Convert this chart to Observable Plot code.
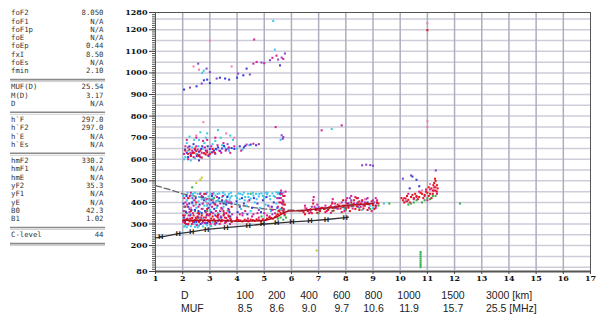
<!DOCTYPE html>
<html><head><meta charset="utf-8">
<script src="https://cdn.jsdelivr.net/npm/d3@7"></script>
<script src="https://cdn.jsdelivr.net/npm/@observablehq/plot@0.6"></script>
<style>
body{margin:0;background:#fff;}
#wrap{position:relative;width:602px;height:324px;overflow:hidden;background:#fff;}
#wrap > *{position:absolute;left:0;top:0;}
</style></head>
<body><div id="wrap"></div>
<script>
// ---------- data ----------
const paramNames = [
  ["foF2","foF1","foF1p","foE","foEp","fxI","foEs","fmin"],
  ["MUF(D)","M(D)","D"],
  ["h`F","h`F2","h`E","h`Es"],
  ["hmF2","hmF1","hmE","yF2","yF1","yE","B0","B1"],
  ["C-level"]
];
const paramValues = [
  ["8.050","N/A","N/A","N/A","0.44","8.50","N/A","2.10"],
  ["25.54","3.17","N/A"],
  ["297.0","297.0","N/A","N/A"],
  ["330.2","N/A","N/A","35.3","N/A","N/A","42.3","1.02"],
  ["44"]
];
const distLabels = ["100","200","400","600","800","1000","1500","3000 [km]"];
const mufLabels  = ["8.5","8.6","9.0","9.7","10.6","11.9","15.7","25.5 [MHz]"];

const xTicks = d3.range(1, 18);
const yLabelTicks = [80,200,300,400,500,600,700,800,900,1000,1100,1200,1280];

const profileLine = [[1.0,236],[1.19,239],[1.84,255],[2.33,264],[2.88,275],[3.59,283],[4.41,293],[4.93,299],[5.46,304],[6.02,310],[6.68,315],[7.29,321],[7.98,330],[8.1,332]];
const profileMarks = [[1.19,239],[1.84,255],[2.33,264],[2.88,275],[3.59,283],[4.41,293],[4.93,299],[5.46,304],[6.02,310],[6.68,315],[7.29,321],[7.98,330]];
const dashedCurve = [[1.0,478],[1.5,460],[2.0,440],[2.5,428],[3.0,415],[3.5,402],[4.0,390],[4.5,378],[5.0,370],[5.5,366],[6.0,364],[6.5,363],[7.0,367],[7.5,372],[8.0,378],[8.3,382]];
const traceF2 = [[2.0,318],[2.5,317],[3.0,316],[3.5,316],[4.0,313],[4.5,314],[5.0,316],[5.3,325],[5.5,335],[5.7,352],[5.9,360],[6.3,362],[6.9,370],[7.5,378],[8.0,386],[8.5,390],[9.0,395]];

const cyanPts = [
[2.05,288],[2.15,285],[2.3,290],[2.45,287],[2.6,292],[2.75,289],[2.9,294],[3.05,291],[2.2,296],[2.5,298],[3.2,296],[2.1,292],[2.4,300],[2.85,300],[2.55,285],
[2.25,420],[2.35,432],[2.4,410],[2.55,440],[2.6,425],[2.7,415],[2.8,438],[2.85,405],[2.95,428],[3.05,440],[3.1,418],[3.2,432],[3.3,410],[3.35,442],[3.45,425],[3.55,436],[3.6,412],[3.7,440],[3.75,422],[3.95,430],[4.05,442],[4.1,415],[4.2,436],[4.3,425],[4.4,440],[4.5,418],[4.6,432],[4.7,440],[4.8,428],[4.9,442],[5.0,420],[5.1,438],[5.2,430],[5.3,442],[5.4,425],[5.5,440],[5.6,435],[5.7,445],
[2.45,445],[2.9,446],[3.5,447],[4.25,446],[5.05,446],[5.45,447],[2.15,410],[3.8,430],
[2.02,430],[2.08,380],[2.18,445],[2.28,375],[2.38,440],[2.48,390],[2.58,405],[2.66,445],[2.72,395],[2.84,420],[2.9,385],[2.98,410],[3.04,395],[3.14,445],[3.22,405],[3.28,440],[3.4,400],[3.48,445],[3.54,405],[3.66,430],[3.72,410],[3.78,445],[4.0,420],[4.12,440],[4.28,410],[4.42,425],[4.58,445],[4.72,415],[4.82,440],[4.95,430],[5.12,445],[5.22,415],[5.35,430],[5.52,445],[5.62,420],
[2.1,360],[2.3,345],[2.5,375],[2.65,355],[2.8,385],[3.0,365],[3.15,395],[3.3,350],[3.5,380],[3.65,360],[4.0,395],[4.15,370],[4.35,385],[4.5,360],[4.65,400],[4.85,375],[5.05,390],[5.25,360],[5.45,395],[5.6,370],
[2.2,318],[2.4,305],[2.7,325],[3.1,308],[3.4,330],[3.8,312],[2.35,395],[2.75,370],[3.25,375],[3.6,395],
[2.1,610],[2.2,640],[2.35,655],[2.5,625],[2.6,690],[2.75,650],[2.85,700],[3.0,630],[3.1,670],[3.25,645],[3.4,700],[3.55,655],[3.7,640],[3.85,690],[4.0,650],[4.2,645],[4.45,665],[2.3,595],[2.9,720],[3.3,735],[2.05,600],[2.45,605],
[2.15,675],[2.42,690],[2.58,660],[2.8,675],[3.2,685],[3.45,665],[3.75,710],[2.25,705],[2.65,725],
[5.33,1241],[5.39,1108],[2.77,1010],[2.72,1000],[7.48,740],[5.6,690],[8.2,390],[8.6,365],[9.0,375],[9.4,395],[8.9,385],[7.95,370]
];
const bluePts = [
[2.05,330],[2.12,355],[2.2,380],[2.28,340],[2.35,400],[2.45,365],[2.55,330],[2.62,390],[2.7,350],[2.78,410],[2.88,340],[2.95,375],[3.05,355],[3.12,400],[3.2,340],[3.28,385],[3.38,360],[3.45,410],[3.52,345],[3.6,390],[3.68,370],[3.75,335],[3.98,405],[4.1,380],[4.25,395],[4.45,410],[4.55,375],[4.75,395],[4.95,410],[5.15,385],[5.35,400],[5.55,420],[5.65,395],[2.15,300],[2.5,310],[2.9,305],[3.3,315],
[2.03,395],[2.09,310],[2.14,430],[2.24,395],[2.32,365],[2.42,310],[2.48,420],[2.58,360],[2.66,300],[2.74,425],[2.82,360],[2.92,395],[3.0,310],[3.08,430],[3.16,370],[3.24,305],[3.34,420],[3.42,330],[3.5,395],[3.58,310],[3.64,425],[3.72,355],[3.8,395],[4.02,355],[4.18,420],[4.38,345],[4.62,420],[4.88,355],[5.08,425],[5.28,380],[5.48,375],[5.6,445],[5.72,350],
[2.15,630],[2.3,620],[2.45,645],[2.6,635],[2.72,660],[2.85,640],[3.0,648],[3.15,640],[3.3,655],[3.45,650],[3.6,645],[3.8,652],[4.1,660],[4.3,662],[4.5,668],[4.7,665],[2.4,670],[2.95,615],
[2.08,645],[2.25,660],[2.38,632],[2.52,615],[2.68,648],[2.8,628],[2.92,660],[3.08,632],[3.22,648],[3.38,638],[3.52,662],[3.68,650],[3.9,648],[4.25,655],[2.2,610],[2.6,595],
[2.05,923],[2.51,938],[2.78,966],[3.0,953],[3.37,978],[3.56,974],[3.71,969],[4.0,978],[4.23,989],[4.35,1020],[5.58,1035],[2.9,969],
[6.9,372],[7.6,380],[8.1,395],[8.5,390],[8.8,400],[9.1,385],[10.45,520],[10.6,505],[10.35,465],[10.7,475]
];
const purplePts = [
[2.27,932],[2.7,951],[3.25,974],[4.04,997],[4.47,993],[4.9,1048],[5.21,1059],[5.51,1062],[5.64,1071],[5.76,1090],[2.88,1020],[3.0,1004],[2.57,1043],
[5.64,711],[5.7,703],[5.68,695],[8.6,572],[8.75,575],[8.9,573],[9.0,570],[10.1,510],[10.4,525],[11.31,548],
[2.25,370],[2.6,345],[3.0,390],[3.4,335],[3.7,400],[4.2,350],[4.8,365],[5.3,345],[5.7,405],
[2.12,320],[2.36,420],[2.56,315],[2.86,440],[3.18,395],[3.46,370],[3.66,315],[2.72,305],
[6.6,365],[6.75,380],[7.0,378],[7.2,370],[7.65,375],[8.0,400],[8.2,410],[8.4,395],[8.6,405],[8.8,392],[9.0,410],[9.15,398],
[7.85,400],[8.15,420],[8.45,380],[8.75,415],[9.05,400],
[2.2,655],[2.65,610],[3.2,625],[3.65,670]
];
const magentaPts = [
[4.6,1043],[4.72,1051],[5.0,1045],[5.3,1070],[5.45,1080],[5.7,1065],[4.63,1155],[5.42,749],[7.11,734],[7.85,757],
[2.02,310],[2.08,340],[2.1,400],[2.18,325],[2.25,355],[2.32,315],[2.4,385],[2.48,330],[2.55,350],[2.62,312],[2.7,370],[2.78,330],[2.85,355],[2.92,318],[3.0,345],[3.08,380],[3.15,322],[3.22,360],[3.3,330],[3.38,395],[3.45,318],[3.52,350],[3.6,328],[3.7,365],[3.78,320],[4.0,330],[4.2,340],[4.4,325],[4.6,345],[4.8,330],[5.0,350],[5.2,335],[5.4,350],[5.5,380],[5.55,400],[5.6,420],[5.65,440],[5.7,390],[5.75,430],[5.62,455],[2.3,445],[2.7,430],[3.1,440],
[2.04,360],[2.06,420],[2.12,300],[2.16,390],[2.22,340],[2.26,430],[2.34,300],[2.38,350],[2.44,410],[2.52,295],[2.58,380],[2.64,440],[2.68,330],[2.74,395],[2.82,305],[2.88,415],[2.96,340],[3.02,300],[3.06,410],[3.12,350],[3.18,300],[3.26,425],[3.32,345],[3.36,300],[3.42,375],[3.48,430],[3.56,305],[3.62,405],[3.68,340],[3.74,300],[3.78,400],[3.82,345],[4.1,345],[4.3,360],[4.55,335],[4.75,350],[5.1,340],[5.3,365],[5.48,420],[5.52,360],[5.58,440],[5.68,410],[5.72,370],[5.78,450],
[2.05,625],[2.2,600],[2.35,640],[2.5,660],[2.62,620],[2.75,685],[2.9,640],[3.05,660],[3.2,700],[3.35,640],[3.5,675],[3.7,655],[3.9,660],[4.15,640],[4.35,668],[4.6,672],[4.8,670],
[2.1,660],[2.28,630],[2.4,610],[2.55,645],[2.7,630],[2.82,655],[2.95,620],[3.12,635],[3.28,665],[3.42,630],[3.58,640],[3.75,630],[2.15,690],[2.5,700],[2.9,690],
[6.4,360],[6.55,372],[6.7,355],[6.85,380],[6.8,410],[6.82,425],[7.0,365],[7.15,375],[7.3,360],[7.45,385],[7.5,400],[7.52,415],[7.7,370],[7.9,385],[8.0,410],[8.1,375],[8.3,395],[8.45,420],[8.55,380],[8.7,400],[8.85,375],[9.0,395],[9.1,420],[8.2,430],
[6.5,385],[6.65,350],[6.95,390],[7.25,385],[7.45,352],[7.6,395],[7.75,385],[7.95,360],[8.05,420],[8.25,372],[8.35,425],[8.5,405],[8.65,385],[8.8,420],[8.95,360],[9.1,375],[9.15,410],
[10.15,420],[10.3,440],[10.5,415],[10.7,450],[10.9,430],[11.1,460],[11.25,470],[11.35,440],[11.0,410],[10.25,405],[10.6,425],[10.95,460],[11.25,455]
];
const redPts = [
[2.05,318],[2.15,322],[2.25,312],[2.35,328],[2.45,318],[2.55,335],[2.65,320],[2.75,315],[2.85,330],[2.95,312],[3.05,325],[3.15,318],[3.25,335],[3.35,320],[3.45,315],[3.55,330],[3.65,318],[3.75,325],[3.95,315],[4.05,318],[4.2,312],[4.35,316],[4.5,320],[4.65,315],[4.8,318],[4.95,322],[5.1,325],[5.25,328],[5.4,332],[5.5,345],[5.6,352],[5.7,360],[5.75,345],
[2.02,340],[2.08,305],[2.2,300],[2.28,325],[2.38,310],[2.5,325],[2.6,310],[2.7,340],[2.8,318],[2.9,345],[3.0,312],[3.1,335],[3.2,310],[3.3,340],[3.4,312],[3.5,340],[3.6,312],[3.7,335],[3.8,310],[4.0,322],[4.12,316],[4.28,320],[4.42,312],[4.58,318],[4.72,322],[4.88,315],[5.05,318],[5.18,330],[5.32,325],[5.45,340],[5.55,360],[5.65,375],[5.7,400],[5.76,390],
[2.1,380],[2.3,360],[2.5,400],[2.6,350],[2.9,370],[3.2,390],[3.5,360],[3.8,380],[2.4,340],[3.0,345],[3.6,350],[2.2,420],[2.8,440],[5.6,400],[5.7,430],
[2.1,640],[2.2,625],[2.3,615],[2.42,630],[2.55,622],[2.65,640],[2.78,628],[2.9,632],[3.0,625],[2.45,650],[2.7,608],[3.1,648],[2.35,628],[2.5,638],[2.6,615],[2.85,622],[3.18,630],[2.25,645],
[6.45,355],[6.6,360],[6.75,350],[6.9,365],[7.05,360],[7.2,370],[7.35,365],[7.5,375],[7.65,380],[7.8,372],[7.95,385],[8.1,380],[8.25,390],[8.4,382],[8.55,395],[8.7,385],[8.85,392],[9.0,388],[9.15,400],[7.5,395],[6.8,395],[8.3,410],
[6.5,345],[6.7,368],[6.95,352],[7.1,375],[7.25,355],[7.4,378],[7.55,362],[7.7,390],[7.85,355],[8.0,372],[8.05,395],[8.15,360],[8.2,400],[8.35,370],[8.45,400],[8.5,365],[8.6,410],[8.65,372],[8.75,395],[8.8,365],[8.95,405],[9.05,370],[9.1,385],[9.2,395],[7.9,410],[8.4,420],
[10.1,410],[10.2,418],[10.3,412],[10.4,425],[10.5,420],[10.6,430],[10.7,425],[10.8,440],[10.9,435],[11.0,445],[11.1,440],[11.2,455],[11.3,470],[11.35,450],[11.25,490],[11.3,500],[10.25,430],[10.55,440],[11.15,420],[11.05,470],[11.35,480],
[10.05,420],[10.15,400],[10.35,400],[10.45,435],[10.65,415],[10.75,445],[10.85,420],[10.95,450],[11.05,430],[11.15,465],[11.2,440],[11.3,455],[11.38,465],[11.28,510],[11.22,480],
[11.0,1198]
];
const pinkPts = [
[11.0,1230],[11.0,776],[11.0,750],[2.76,772],[2.4,1030],[2.6,1015],[3.8,1030],[3.9,700],[3.6,720],[2.5,710],[3.0,1150],
[2.3,375],[2.9,395],[3.4,365],[4.4,405],[5.2,380],[6.5,375],[7.8,395],[8.7,415],[10.8,455],[11.1,485]
];
const greenPts = [
[2.15,350],[2.35,470],[2.6,330],[2.9,360],[3.3,345],[3.7,335],[4.5,440],[4.9,335],[5.6,330],[5.7,320],[5.8,330],[6.3,360],[7.0,350],[7.5,360],[8.0,365],[8.5,375],[8.9,370],[9.2,385],[9.6,395],[10.2,405],[10.4,395],[10.6,410],[10.8,400],[11.0,420],[11.2,430],[12.2,395],
[2.05,380],[2.45,360],[2.75,310],[3.15,420],[3.55,395],[5.5,325],[5.75,340],[10.3,390],[10.5,400],[10.9,410],[11.1,415],[11.3,430],
[10.75,100],[10.75,110],[10.75,120],[10.75,130],[10.75,140],[10.75,150],[10.75,160],[10.75,170]
];
const yellowPts = [[2.65,505],[2.7,515],[2.5,490],[6.93,177]];

// ---------- chart ----------
const pt = (arr, color) => Plot.dot(arr, {x: d => d[0], y: d => d[1], r: 1.15, symbol: "square", fill: color, stroke: "none"});
const serif = "'DejaVu Serif', serif";

const chart = Plot.plot({
  width: 602, height: 324,
  marginLeft: 155, marginRight: 12, marginTop: 12, marginBottom: 53,
  x: {domain: [1, 17]},
  y: {domain: [80, 1280]},
  style: {background: "transparent", overflow: "visible"},
  marks: [
    Plot.gridY(d3.range(100, 1281, 50), {stroke: "#cdcdda", strokeOpacity: 1, strokeWidth: 1.5}),
    Plot.gridX(d3.range(2, 17), {stroke: "#aeaec0", strokeOpacity: 1, strokeWidth: 1.5}),
    Plot.ruleY([80], {stroke: "#a8a8a8", strokeWidth: 3}),
    Plot.frame({stroke: "#555", strokeWidth: 1}),
    Plot.axisY({ticks: d3.range(80, 1281, 10), tickSize: 3, tickFormat: () => "", stroke: "#555"}),
    Plot.axisY({ticks: yLabelTicks, tickSize: 6, tickPadding: 2, tickFormat: d => String(d), fontFamily: serif, fontWeight: "bold", fontSize: 8, fill: "#111", stroke: "#444"}),
    Plot.axisX({ticks: xTicks, tickSize: 3, tickPadding: 1, tickFormat: d => String(d), fontFamily: serif, fontWeight: "bold", fontSize: 8, fill: "#111", stroke: "#444"}),
    Plot.line(dashedCurve, {x: d => d[0], y: d => d[1], stroke: "#666", strokeWidth: 1.3, strokeDasharray: "6,3"}),
    pt(yellowPts, "#c8c828"),
    pt(greenPts, "#34b04a"),
    pt(cyanPts, "#3cc6ea"),
    pt(bluePts, "#3a3ad6"),
    pt(purplePts, "#8a44cc"),
    pt(pinkPts, "#f27cb0"),
    pt(magentaPts, "#d8208e"),
    pt(redPts, "#e8141e"),
    Plot.line(traceF2, {x: d => d[0], y: d => d[1], stroke: "#b01020", strokeWidth: 1.5}),
    Plot.line(profileLine, {x: d => d[0], y: d => d[1], stroke: "#333", strokeWidth: 1.3}),
    Plot.text(profileMarks, {x: d => d[0], y: d => d[1], text: () => "H", fontSize: 6.5, fontWeight: "bold", fill: "#222", fontFamily: "'DejaVu Sans', sans-serif"})
  ]
});
document.getElementById("wrap").appendChild(chart);

// ---------- side panel and bottom table ----------
const svg = d3.select("#wrap").append("svg").attr("width", 602).attr("height", 324).style("pointer-events", "none");
const rowH = 8.3, groupGap = 7.8, top0 = 13.3;
let idx = 0;
paramNames.forEach((group, g) => {
  let lastY = 0;
  group.forEach((name, i) => {
    const y = top0 + rowH * idx + groupGap * g;
    lastY = y;
    svg.append("text").attr("x", 11).attr("y", y).attr("dominant-baseline", "middle")
      .attr("font-family", "'DejaVu Sans Mono', monospace").attr("font-size", 7.3).attr("fill", "#333").text(name);
    svg.append("text").attr("x", 103.5).attr("y", y).attr("dominant-baseline", "middle").attr("text-anchor", "end")
      .attr("font-family", "'DejaVu Sans Mono', monospace").attr("font-size", 7.3).attr("fill", "#333").text(paramValues[g][i]);
    idx++;
  });
  const sy = lastY + 8.2;
  svg.append("line").attr("x1", 10).attr("x2", 105).attr("y1", sy).attr("y2", sy).attr("stroke", "#8a8a8a").attr("stroke-width", 1.6);
  svg.append("line").attr("x1", 10).attr("x2", 105).attr("y1", sy + 2).attr("y2", sy + 2).attr("stroke", "#cfcfcf").attr("stroke-width", 1);
});

const colX = [245, 276.7, 309, 341.7, 373.5, 409, 453, 486];
const rowY = [296, 309];
const sans = "'Liberation Sans', Arial, sans-serif";
[["D", distLabels], ["MUF", mufLabels]].forEach(([head, labels], r) => {
  svg.append("text").attr("x", 181).attr("y", rowY[r]).attr("dominant-baseline", "middle")
    .attr("font-family", sans).attr("font-size", 10.5).attr("fill", "#222").text(head);
  labels.forEach((s, i) => {
    const last = i === labels.length - 1;
    svg.append("text").attr("x", colX[i]).attr("y", rowY[r]).attr("dominant-baseline", "middle")
      .attr("text-anchor", last ? "start" : "middle")
      .attr("font-family", sans).attr("font-size", 10.5).attr("fill", "#222").text(s);
  });
});
</script>
</body></html>
